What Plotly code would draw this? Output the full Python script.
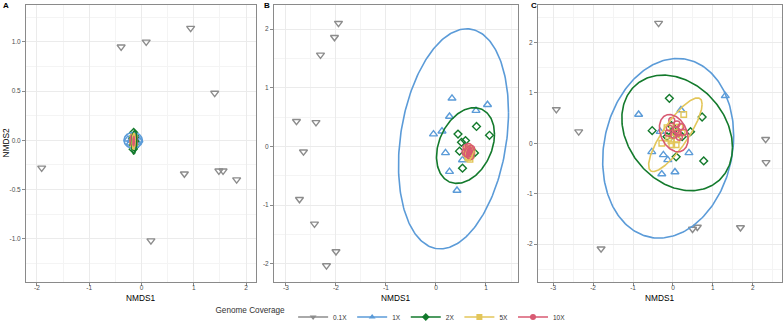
import numpy as np
import plotly.graph_objects as go

# ---------------- data ----------------
groups = ["0.1X", "1X", "2X", "5X", "10X"]
colors = {"0.1X": "#8C8C8C", "1X": "#5B9BD8", "2X": "#137A2C", "5X": "#E3C65A", "10X": "#D85A72"}
symbols = {"0.1X": "triangle-down-open", "1X": "triangle-up-open", "2X": "diamond-open",
           "5X": "square-open", "10X": "circle-open"}
sizes = {"0.1X": 7, "1X": 7, "2X": 6, "5X": 5.5, "10X": 6}

# Panel A
a_x_01 = [-0.39, 0.09, 0.94, 1.40, -1.91, 0.82, 1.48, 1.56, 1.82, 0.18]
a_y_01 = [0.95, 1.00, 1.14, 0.48, -0.28, -0.34, -0.31, -0.31, -0.40, -1.02]
a_x_1 = [-0.26, -0.22, -0.18, -0.15, -0.12, -0.09, -0.20, -0.10, -0.16, -0.05]
a_y_1 = [0.01, -0.03, 0.03, -0.01, 0.02, -0.02, 0.00, 0.04, -0.04, 0.00]
a_x_2 = [-0.15, -0.14, -0.16, -0.13, -0.15, -0.14, -0.16, -0.15, -0.14, -0.15]
a_y_2 = [0.08, 0.05, 0.02, -0.01, -0.04, -0.07, -0.09, 0.00, 0.03, -0.05]
a_x_5 = [-0.15, -0.16, -0.14, -0.15, -0.16, -0.14, -0.15, -0.15, -0.16, -0.14]
a_y_5 = [0.05, 0.02, 0.00, -0.02, -0.05, 0.03, -0.04, 0.01, -0.01, -0.03]
a_x_10 = [-0.15, -0.15, -0.16, -0.14, -0.15, -0.15, -0.16, -0.14, -0.15, -0.15]
a_y_10 = [0.03, 0.01, 0.00, -0.01, -0.03, 0.02, -0.02, 0.01, -0.01, 0.00]

# Panel B
b_x_01 = [-1.95, -2.03, -2.31, -2.79, -2.40, -2.65, -2.73, -2.43, -2.00, -2.19]
b_y_01 = [2.10, 1.86, 1.56, 0.43, 0.41, -0.09, -0.90, -1.32, -1.79, -2.03]
b_x_1 = [0.32, 1.03, 0.27, 0.80, -0.05, 0.12, 0.19, 0.53, 0.27, 0.42]
b_y_1 = [0.82, 0.71, 0.51, 0.61, 0.21, 0.26, -0.11, -0.23, -0.43, -0.75]
b_x_2 = [0.81, 1.07, 0.44, 0.59, 0.51, 0.47, 0.77, 0.53, 0.66, 0.70]
b_y_2 = [0.34, 0.19, 0.21, 0.10, 0.07, -0.08, -0.11, -0.37, -0.05, -0.15]
b_x_5 = [0.62, 0.66, 0.70, 0.64, 0.68, 0.60, 0.72, 0.65, 0.67, 0.63]
b_y_5 = [-0.05, -0.10, -0.15, -0.20, -0.22, -0.12, -0.08, -0.18, -0.03, -0.14]
b_x_10 = [0.60, 0.64, 0.68, 0.71, 0.62, 0.66, 0.70, 0.58, 0.65, 0.69]
b_y_10 = [-0.02, -0.05, -0.08, -0.04, -0.12, -0.15, -0.12, -0.10, 0.00, -0.17]

# Panel C
c_x_01 = [-0.36, -2.92, -2.36, 2.32, 2.33, 0.49, 0.61, 1.69, -1.80]
c_y_01 = [2.38, 0.67, 0.23, 0.08, -0.38, -1.70, -1.66, -1.67, -2.09]
c_x_1 = [1.31, -0.86, 0.20, -0.32, -0.53, -0.24, -0.13, 0.40, -0.28, 0.05]
c_y_1 = [0.94, 0.57, 0.66, 0.23, -0.17, -0.23, -0.33, -0.19, -0.61, -0.57]
c_x_2 = [-0.09, 0.73, -0.52, 0.44, -0.15, 0.23, 0.08, 0.77, -0.04, 0.02, 0.10, -0.03]
c_y_2 = [0.89, 0.52, 0.25, 0.23, 0.13, 0.13, -0.27, -0.35, 0.35, 0.26, 0.22, 0.16]
c_x_5 = [0.27, 0.07, 0.17, 0.23, -0.28, -0.11, -0.03, 0.08, 0.10, 0.06, -0.15, -0.05]
c_y_5 = [0.57, 0.32, 0.32, 0.20, 0.00, 0.10, -0.03, -0.03, 0.07, 0.21, 0.31, 0.05]
c_x_10 = [-0.03, -0.09, 0.20, 0.27, 0.12, 0.16, 0.02, 0.08, -0.12, 0.10]
c_y_10 = [0.45, 0.30, 0.33, 0.22, 0.20, 0.12, 0.16, 0.26, 0.20, 0.38]

# Ellipse parameters per panel / group: centre x, centre y, half-width x, half-height y, correlation
ell_A = {"1X": (-0.16, 0.00, 0.175, 0.08, 0.0), "2X": (-0.14, -0.02, 0.05, 0.12, 0.2),
         "5X": (-0.15, -0.01, 0.03, 0.08, 0.2), "10X": (-0.15, -0.01, 0.015, 0.045, 0.2)}
ell_B = {"1X": (0.35, 0.13, 1.10, 1.875, 0.24), "2X": (0.59, 0.015, 0.58, 0.645, 0.30),
         "5X": (0.66, -0.11, 0.085, 0.13, 0.30), "10X": (0.655, -0.08, 0.09, 0.10, 0.50)}
ell_C = {"1X": (-0.12, -0.10, 1.64, 1.78, 0.14), "2X": (0.105, 0.205, 1.385, 1.145, -0.25),
         "5X": (0.06, 0.17, 0.67, 0.73, 0.83), "10X": (0.02, 0.20, 0.36, 0.37, -0.30)}

# Axes
a_xticks = [-2, -1, 0, 1, 2]; a_xlabels = ["-2", "-1", "0", "1", "2"]
a_yticks = [-1.0, -0.5, 0.0, 0.5, 1.0]; a_ylabels = ["-1.0", "-0.5", "0.0", "0.5", "1.0"]
b_xticks = [-3, -2, -1, 0, 1]; b_xlabels = ["-3", "-2", "-1", "0", "1"]
b_yticks = [-2, -1, 0, 1, 2]; b_ylabels = ["-2", "-1", "0", "1", "2"]
c_xticks = [-3, -2, -1, 0, 1, 2]; c_xlabels = ["-3", "-2", "-1", "0", "1", "2"]
c_yticks = [-2, -1, 0, 1, 2]; c_ylabels = ["-2", "-1", "0", "1", "2"]

panels = [
    dict(name="A", pts={"0.1X": (a_x_01, a_y_01), "1X": (a_x_1, a_y_1), "2X": (a_x_2, a_y_2),
                        "5X": (a_x_5, a_y_5), "10X": (a_x_10, a_y_10)},
         ell=ell_A, xr=[-2.21, 2.19], yr=[-1.44, 1.375],
         xt=(a_xticks, a_xlabels), yt=(a_yticks, a_ylabels), dom=[0.0, 0.3042]),
    dict(name="B", pts={"0.1X": (b_x_01, b_y_01), "1X": (b_x_1, b_y_1), "2X": (b_x_2, b_y_2),
                        "5X": (b_x_5, b_y_5), "10X": (b_x_10, b_y_10)},
         ell=ell_B, xr=[-3.24, 1.64], yr=[-2.31, 2.41],
         xt=(b_xticks, b_xlabels), yt=(b_yticks, b_ylabels), dom=[0.328, 0.6508]),
    dict(name="C", pts={"0.1X": (c_x_01, c_y_01), "1X": (c_x_1, c_y_1), "2X": (c_x_2, c_y_2),
                        "5X": (c_x_5, c_y_5), "10X": (c_x_10, c_y_10)},
         ell=ell_C, xr=[-3.38, 2.73], yr=[-2.75, 2.74],
         xt=(c_xticks, c_xlabels), yt=(c_yticks, c_ylabels), dom=[0.6772, 1.0]),
]

FONT = "Liberation Sans, Arial, Helvetica, sans-serif"
GRID = "#EBEBEB"
MINOR = "#F4F4F4"
BORDER = "#8A8A8A"


def ellipse(cx, cy, hx, hy, r, n=240):
    t = np.linspace(0, 2 * np.pi, n)
    x = cx + hx * np.cos(t)
    y = cy + hy * (r * np.cos(t) + np.sqrt(1 - r * r) * np.sin(t))
    return x, y


def minors(ticks, rng):
    step = ticks[1] - ticks[0]
    vals = np.arange(ticks[0] - step / 2, ticks[-1] + step, step)
    return [float(v) for v in vals if rng[0] <= v <= rng[1]]


fig = go.Figure()
layout = {}
for i, p in enumerate(panels):
    k = "" if i == 0 else str(i + 1)
    xa, ya = "x" + k, "y" + k
    for g in groups:
        xs, ys = p["pts"][g]
        fig.add_trace(go.Scatter(x=xs, y=ys, mode="markers", xaxis=xa, yaxis=ya,
                                 marker=dict(symbol=symbols[g], size=sizes[g], color=colors[g],
                                             line=dict(width=1.4, color=colors[g])),
                                 showlegend=False, legendgroup=g, hoverinfo="skip"))
    for g in groups[1:]:
        ex, ey = ellipse(*p["ell"][g])
        fig.add_trace(go.Scatter(x=ex, y=ey, mode="lines", xaxis=xa, yaxis=ya,
                                 line=dict(color=colors[g], width=1.6),
                                 showlegend=False, legendgroup=g, hoverinfo="skip"))
    common = dict(showgrid=True, gridcolor=GRID, gridwidth=1, zeroline=False,
                  showline=True, mirror=True, linecolor=BORDER, linewidth=1,
                  ticks="outside", ticklen=3, tickcolor=BORDER, tickwidth=1,
                  tickfont=dict(size=6.5, color="#4D4D4D", family=FONT), tickmode="array",
                  automargin=False)
    layout["xaxis" + k] = dict(common, domain=p["dom"], range=p["xr"], anchor=ya,
                               tickvals=p["xt"][0], ticktext=p["xt"][1], ticklabelstandoff=-4,
                               minor=dict(tickmode="array", tickvals=minors(p["xt"][0], p["xr"]),
                                          showgrid=True, gridcolor=MINOR, gridwidth=0.6))
    layout["yaxis" + k] = dict(common, domain=[0, 1], range=p["yr"], anchor=xa,
                               tickvals=p["yt"][0], ticktext=p["yt"][1],
                               minor=dict(tickmode="array", tickvals=minors(p["yt"][0], p["yr"]),
                                          showgrid=True, gridcolor=MINOR, gridwidth=0.6))

# legend entries (one per coverage group)
for g in groups:
    fig.add_trace(go.Scatter(x=[None], y=[None], mode="lines+markers", name=g,
                             marker=dict(symbol=symbols[g].replace("-open", ""), size=6, color=colors[g]),
                             line=dict(color=colors[g], width=1.6), legendgroup=g, showlegend=True))

W, H = 784, 322
ml, mr, mt, mb = 26, 2, 5, 40
pw, ph = W - ml - mr, H - mt - mb


def px2paper_x(px):
    return (px - ml) / pw


def px2paper_y(py):
    return (H - mb - py) / ph


annotations = []
for p, lx in zip(panels, [1, 262, 529]):
    annotations.append(dict(text="<b>%s</b>" % p["name"], x=px2paper_x(lx), y=px2paper_y(-1),
                            xref="paper", yref="paper", xanchor="left", yanchor="top",
                            showarrow=False, font=dict(size=8, color="black", family=FONT)))
    annotations.append(dict(text="NMDS1", x=(p["dom"][0] + p["dom"][1]) / 2, y=px2paper_y(298),
                            xref="paper", yref="paper", xanchor="center", yanchor="middle",
                            showarrow=False, font=dict(size=8.3, color="black", family=FONT)))
annotations.append(dict(text="NMDS2", x=px2paper_x(5), y=0.5, xref="paper", yref="paper",
                        xanchor="center", yanchor="middle", textangle=-90, showarrow=False,
                        font=dict(size=8.3, color="black", family=FONT)))

fig.update_layout(
    width=W, height=H, margin=dict(l=ml, r=mr, t=mt, b=mb, autoexpand=False),
    paper_bgcolor="white", plot_bgcolor="white",
    font=dict(family=FONT, size=8, color="black"),
    showlegend=True,
    legend=dict(orientation="h", x=0.5, xref="container", xanchor="center",
                y=(H - 317) / H, yref="container", yanchor="middle",
                title=dict(text="Genome Coverage", side="left", font=dict(size=8.2, family=FONT)),
                font=dict(size=6.5, color="#333333", family=FONT),
                itemwidth=30, tracegroupgap=0, bgcolor="rgba(0,0,0,0)"),
    annotations=annotations,
    **layout,
)

fig.write_html("out.html", config={"displayModeBar": False},
               post_script="document.body.style.margin='0px';document.body.style.overflow='hidden';")
